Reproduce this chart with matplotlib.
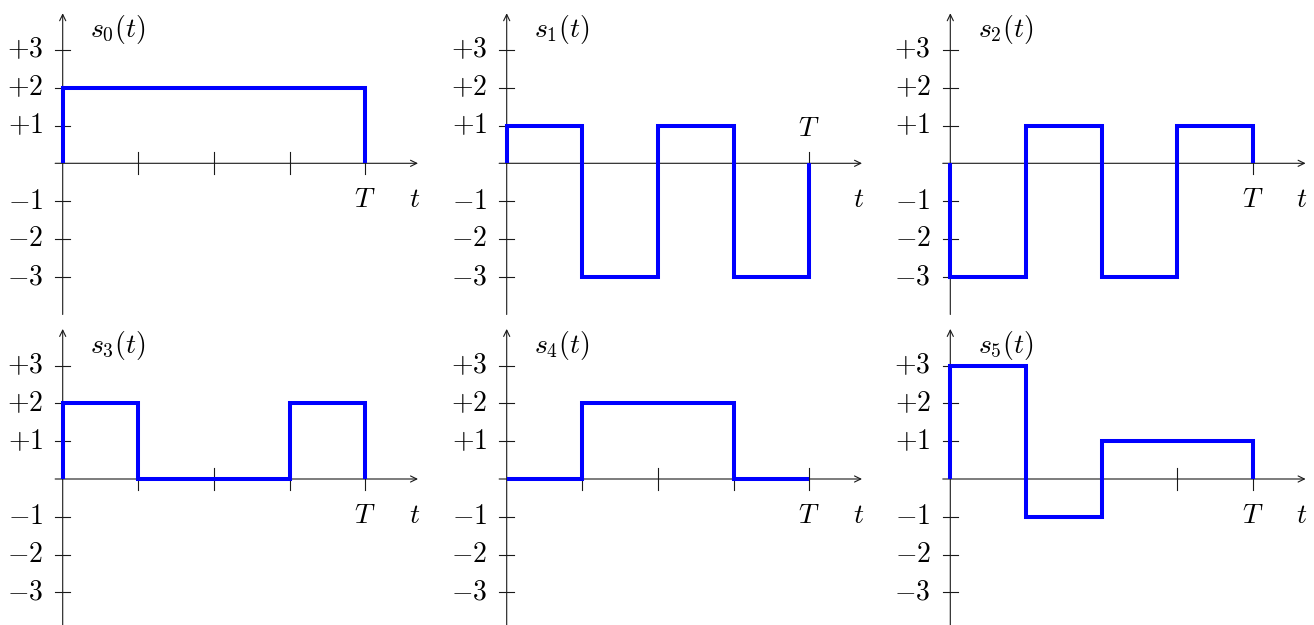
import numpy as np
import matplotlib.pyplot as plt

plt.rcParams['mathtext.fontset'] = 'cm'
plt.rcParams['font.family'] = ['DejaVu Serif']

# signal levels on each quarter of the symbol interval [0, T]
edges = [0, 1, 2, 3, 4]
s0 = [2, 2, 2, 2]
s1 = [1, -3, 1, -3]
s2 = [-3, 1, -3, 1]
s3 = [2, 0, 0, 2]
s4 = [0, 2, 2, 0]
s5 = [3, -1, 1, 1]
signals = [s0, s1, s2, s3, s4, s5]
names = ['$s_0(t)$', '$s_1(t)$', '$s_2(t)$', '$s_3(t)$', '$s_4(t)$', '$s_5(t)$']

yticks = [-3, -2, -1, 1, 2, 3]
ytick_labels = ['$-3$', '$-2$', '$-1$', '$+1$', '$+2$', '$+3$']
xticks = [1, 2, 3, 4]

W, H = 1314, 625
fig = plt.figure(figsize=(W / 100, H / 100), dpi=100)

# pixel position of each panel's origin, and pixels per unit
col_x = [62.7, 506.7, 950.3]
row_y = [163.3, 479.0]
sx, sy = 75.6, 37.8
xmin, xmax = -0.8, 4.9
ymin, ymax = -4.3, 4.2

axis_col = '#1a1a1a'
fs = 20

for i, levels in enumerate(signals):
    r, c = divmod(i, 3)
    ox, oy = col_x[c], row_y[r]
    left = (ox + xmin * sx) / W
    bottom = (H - (oy - ymin * sy)) / H
    ax = fig.add_axes([left, bottom, (xmax - xmin) * sx / W, (ymax - ymin) * sy / H])
    ax.set_xlim(xmin, xmax)
    ax.set_ylim(ymin, ymax)
    ax.axis('off')

    # axes with arrows
    arrow = dict(arrowstyle='->,head_length=0.45,head_width=0.22', lw=0.8,
                 color=axis_col, shrinkA=0, shrinkB=0)
    ax.annotate('', xy=(4.7, 0), xytext=(-0.1, 0), arrowprops=arrow,
                annotation_clip=False)
    ax.annotate('', xy=(0, 3.97), xytext=(0, -4.0), arrowprops=arrow,
                annotation_clip=False)

    # tick marks
    for xt in xticks:
        ax.plot([xt, xt], [-0.29, 0.29], color=axis_col, lw=0.8, zorder=2, clip_on=False)
    for yt, lab in zip(yticks, ytick_labels):
        ax.plot([-0.1, 0.1], [yt, yt], color=axis_col, lw=0.8, zorder=2, clip_on=False)
        ax.text(-0.26, yt, lab, ha='right', va='center', fontsize=fs, clip_on=False)

    # waveform as a staircase that starts and ends on the time axis
    x = np.repeat(edges, 2)
    y = np.concatenate([[0], np.repeat(levels, 2), [0]])
    ax.plot(x, y, color='#0000ff', lw=2.9, solid_joinstyle='miter',
            solid_capstyle='butt', zorder=3, clip_on=False)

    ty = 0.91 if levels[-1] < 0 else -0.96
    ax.text(4, ty, '$T$', ha='center', va='center', fontsize=fs)
    ax.text(4.65, -0.96, '$t$', ha='center', va='center', fontsize=fs)
    ax.text(0.36, 3.53, names[i], ha='left', va='center', fontsize=fs)

fig.savefig('out.png', dpi=100)
